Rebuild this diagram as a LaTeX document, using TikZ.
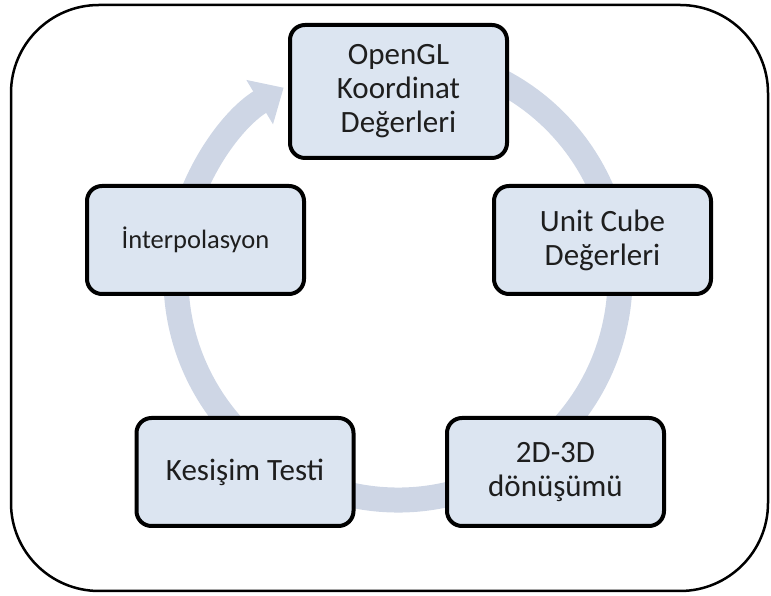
\documentclass[tikz,border=0pt]{standalone}
\usepackage{fontspec}
\setmainfont{Carlito}
\usetikzlibrary{arrows.meta}
\definecolor{boxfill}{RGB}{220,229,241}
\definecolor{ringcol}{RGB}{206,214,229}
\definecolor{txt}{RGB}{30,30,30}
\tikzset{
  stepbox/.style={draw=black, line width=4pt, rounded corners=15pt, fill=boxfill,
    text=txt, align=center, minimum width=217pt, minimum height=108pt,
    inner sep=4pt, font=\fontsize{31}{34}\selectfont},
  frame/.style={draw=black, line width=2.5pt, rounded corners=88pt},
  ring/.style={draw=ringcol, line width=25pt, -{Triangle[width=50pt,length=28pt]}}
}
\begin{document}
\begin{tikzpicture}[x=1pt,y=1pt]
\useasboundingbox (0,0) rectangle (771,596);
\draw[frame] (11,5) rectangle (768,591);
\coordinate (c) at (398,318);
\draw[ring] ([shift={(398,318)}]75:222) arc[start angle=75, end angle=-239, radius=222];
\node[stepbox, minimum height=133pt] (gl) at (398.5,504.5) {OpenGL\\Koordinat\\Değerleri};
\node[stepbox] (uc) at (602.5,356) {Unit Cube\\Değerleri};
\node[stepbox] (dd) at (555.5,124) {2D-3D\\dönüşümü};
\node[stepbox] (kt) at (245,124) {Kesişim Testi};
\node[stepbox, font=\fontsize{26.5}{30}\selectfont] (ip) at (195.5,356) {İnterpolasyon};
\end{tikzpicture}
\end{document}
